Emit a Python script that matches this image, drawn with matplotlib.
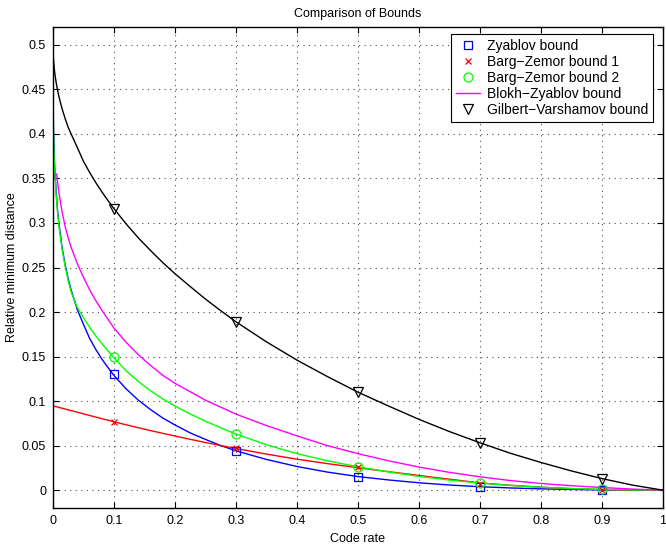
import matplotlib
matplotlib.use("Agg")
import matplotlib.pyplot as plt

plt.rcParams['font.family'] = ['Liberation Sans', 'DejaVu Sans']

# code rate grid used for the curves
rate = [0, 0.0005, 0.001, 0.002, 0.003, 0.005, 0.0075, 0.01, 0.015, 0.02,
        0.025, 0.03, 0.04, 0.05, 0.06, 0.07, 0.08, 0.09, 0.1, 0.12, 0.14, 0.16,
        0.18, 0.2, 0.225, 0.25, 0.275, 0.3, 0.35, 0.4, 0.45, 0.5, 0.55, 0.6,
        0.65, 0.7, 0.75, 0.8, 0.85, 0.9, 0.95, 1.0]

zyablov = [0.5, 0.420, 0.400, 0.376, 0.360, 0.337, 0.314, 0.298, 0.272, 0.253,
           0.237, 0.224, 0.2025, 0.186, 0.1705, 0.1582, 0.1473, 0.1378, 0.1287,
           0.1137, 0.101, 0.0905, 0.081, 0.0732, 0.0643, 0.057, 0.0501, 0.0442,
           0.0345, 0.0266, 0.0203, 0.0153, 0.0115, 0.0083, 0.0058, 0.0039,
           0.0025, 0.0015, 0.0008, 0.0003, 0.0001, 0]

bz1 = [0.0947, 0.0946, 0.0945, 0.0943, 0.0941, 0.0938, 0.0933, 0.0929, 0.0920,
       0.0911, 0.0902, 0.0893, 0.0875, 0.0857, 0.0839, 0.0821, 0.0803, 0.0786,
       0.0768, 0.0734, 0.0701, 0.0669, 0.0638, 0.0608, 0.0571, 0.0535, 0.0501,
       0.0468, 0.0405, 0.0348, 0.0298, 0.0252, 0.0208, 0.0165, 0.0123, 0.0082,
       0.0055, 0.0033, 0.0017, 0.0007, 0.0002, 0]

bz2 = [0.5, 0.415, 0.395, 0.372, 0.356, 0.333, 0.311, 0.295, 0.270, 0.251,
       0.235, 0.222, 0.205, 0.1935, 0.183, 0.1734, 0.1646, 0.1564, 0.1487,
       0.134, 0.122, 0.1115, 0.1025, 0.0945, 0.0855, 0.0775, 0.070, 0.063,
       0.051, 0.041, 0.033, 0.0262, 0.0205, 0.0155, 0.0113, 0.0079, 0.0053,
       0.0033, 0.0019, 0.0009, 0.0003, 0]

gv = [0.5, 0.4868, 0.4814, 0.4737, 0.4678, 0.4584, 0.449, 0.441, 0.428, 0.417,
      0.4072, 0.3995, 0.3845, 0.3691, 0.3568, 0.3455, 0.335, 0.3253, 0.316,
      0.2988, 0.2832, 0.269, 0.2555, 0.243, 0.2286, 0.2145, 0.2015, 0.189,
      0.1665, 0.146, 0.1275, 0.110, 0.0945, 0.0795, 0.0658, 0.0532, 0.0414,
      0.0311, 0.0216, 0.0130, 0.0057, 0]

# Blokh-Zyablov curve starts a little right of zero
rate_bzy = [0.006, 0.008, 0.01, 0.015, 0.02, 0.025, 0.03, 0.04, 0.05, 0.06,
            0.07, 0.08, 0.09, 0.1, 0.12, 0.14, 0.16, 0.18, 0.2, 0.25, 0.3, 0.35,
            0.4, 0.45, 0.5, 0.55, 0.6, 0.65, 0.7, 0.75, 0.8, 0.85, 0.9, 0.95,
            1.0]
blokh = [0.355, 0.343, 0.333, 0.312, 0.296, 0.283, 0.272, 0.254, 0.239, 0.225,
         0.213, 0.202, 0.192, 0.182, 0.166, 0.152, 0.140, 0.129, 0.120, 0.101,
         0.0854, 0.0725, 0.061, 0.050, 0.041, 0.033, 0.026, 0.020, 0.015,
         0.0108, 0.0075, 0.005, 0.003, 0.0012, 0]

# marker positions
mk_rate = [0.1, 0.3, 0.5, 0.7, 0.9]
zyablov_mk = [0.130, 0.0438, 0.015, 0.0037, 0.0003]
bz1_mk = [0.0768, 0.0468, 0.0255, 0.0072, 0.0007]
bz2_mk = [0.149, 0.063, 0.0262, 0.0079, 0.001]
gv_mk = [0.316, 0.189, 0.110, 0.0532, 0.013]

BLUE, RED, GREEN, MAGENTA = '#0000ff', '#ff0000', '#00ff00', '#ff00ff'

fig = plt.figure(figsize=(6.66, 5.44), dpi=100)
ax = fig.add_axes([53 / 666, 36 / 544, 610 / 666, 481 / 544])

lw = 1.0
ax.plot(rate, zyablov, color=BLUE, lw=lw)
ax.plot(rate, bz1, color=RED, lw=lw)
ax.plot(rate, bz2, color=GREEN, lw=lw)
ax.plot(rate_bzy, blokh, color=MAGENTA, lw=lw)
ax.plot(rate, gv, color='k', lw=lw)

h1, = ax.plot(mk_rate, zyablov_mk, 's', color=BLUE, mfc='none', ms=5.5,
              mew=0.9, label='Zyablov bound')
h2, = ax.plot(mk_rate, bz1_mk, 'x', color=RED, ms=4.5, mew=0.9,
              label='Barg\u2212Zemor bound 1')
h3, = ax.plot(mk_rate, bz2_mk, 'o', color=GREEN, mfc='none', ms=6.5, mew=0.9,
              label='Barg\u2212Zemor bound 2')
h4, = ax.plot([], [], color=MAGENTA, lw=lw, label='Blokh\u2212Zyablov bound')
h5, = ax.plot(mk_rate, gv_mk, 'v', color='k', mfc='none', ms=7, mew=0.9,
              label='Gilbert\u2212Varshamov bound')

ax.set_xlim(0, 1)
ax.set_ylim(-0.02, 0.52)
ax.set_xticks([i / 10 for i in range(11)])
ax.set_xticklabels(['0', '0.1', '0.2', '0.3', '0.4', '0.5', '0.6', '0.7',
                    '0.8', '0.9', '1'])
ax.set_yticks([i * 0.05 for i in range(11)])
ax.set_yticklabels(['0', '0.05', '0.1', '0.15', '0.2', '0.25', '0.3', '0.35',
                    '0.4', '0.45', '0.5'])
ax.tick_params(direction='in', length=4, width=0.8, top=True, right=True,
               labelsize=9, pad=5)
ax.grid(True, color='0.3', linestyle=(0, (1, 4)), linewidth=0.8)
for s in ax.spines.values():
    s.set_linewidth(1.0)

ax.set_title('Comparison of Bounds', fontsize=9, pad=7)
ax.set_xlabel('Code rate', fontsize=9, labelpad=4)
ax.set_ylabel('Relative minimum distance', fontsize=9, labelpad=2.5)

leg = ax.legend(handles=[h1, h2, h3, h4, h5], loc='upper right',
                bbox_to_anchor=((653 - 53) / 610, (508 - 34) / 481),
                borderaxespad=0, fontsize=10, fancybox=False, framealpha=1,
                edgecolor='k', handlelength=1.7, handletextpad=0.5,
                labelspacing=0.15, borderpad=0.35)
leg.get_frame().set_linewidth(0.8)

fig.savefig('out.png', dpi=100)
